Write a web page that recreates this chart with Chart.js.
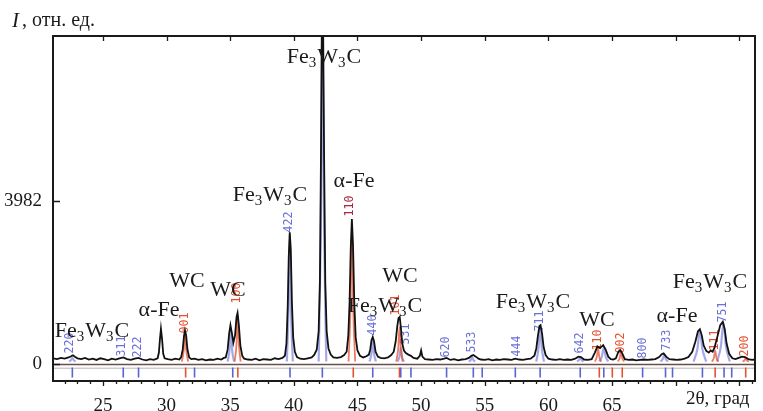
<!DOCTYPE html>
<html><head><meta charset="utf-8">
<script src="https://cdn.jsdelivr.net/npm/chart.js@4.4.1/dist/chart.umd.min.js"></script>
<style>html,body{margin:0;padding:0;background:#fff;}#wrap{width:763px;height:411px;position:relative;}</style>
</head><body><div id="wrap"><canvas id="c" width="763" height="411"></canvas></div>
<script>
// ---- observed pattern (2θ, intensity) ----
const twoTheta = [21.1,21.4,21.7,22.0,22.3,22.5,22.65,22.8,23.0,23.3,23.6,23.9,24.2,24.5,24.8,25.1,25.4,25.7,26.0,26.3,26.6,26.9,27.2,27.5,27.8,28.1,28.4,28.7,29.0,
29.3,29.4,29.48,29.56,29.65,29.74,29.85,30.1,30.4,30.7,31.0,
31.15,31.27,31.37,31.45,31.54,31.64,31.78,31.95,32.2,32.5,32.8,33.1,33.4,33.7,34.0,34.3,
34.5,34.65,34.8,34.92,35.02,35.12,35.25,35.38,35.5,35.58,35.68,35.8,35.95,36.1,
36.4,36.7,37.0,37.3,37.6,37.9,38.2,38.5,38.8,39.1,
39.3,39.42,39.52,39.6,39.68,39.76,39.85,39.95,40.08,40.25,40.5,40.8,41.1,41.4,41.6,
41.8,41.95,42.05,42.13,42.2,42.3,42.38,42.47,42.58,42.72,42.9,43.1,43.4,43.7,43.95,
44.15,44.28,44.38,44.47,44.56,44.65,44.75,44.86,45.0,45.2,45.45,45.7,
45.9,46.0,46.1,46.2,46.3,46.42,46.6,46.8,47.1,47.4,47.65,
47.85,48.0,48.12,48.22,48.32,48.42,48.52,48.65,48.8,49.0,49.2,49.4,
49.7,49.9,50.0,50.1,50.3,50.6,50.9,51.2,51.5,51.8,52.0,52.3,52.6,52.9,53.2,53.5,53.75,53.95,54.1,54.3,54.5,54.7,55.0,55.3,55.6,55.9,56.2,56.5,56.8,57.1,57.4,57.7,58.0,58.3,58.6,
58.9,59.05,59.18,59.3,59.38,59.5,59.62,59.78,60.0,
60.3,60.6,60.9,61.2,61.5,61.8,62.1,62.35,62.55,62.8,63.1,63.4,63.65,63.85,64.05,64.3,64.5,64.7,64.9,65.1,65.3,65.5,65.65,65.8,66.0,
66.3,66.6,66.9,67.2,67.5,67.8,68.1,68.4,68.7,68.9,69.05,69.25,69.5,69.8,70.1,70.4,70.7,71.0,71.3,71.55,71.75,71.9,72.05,72.2,72.4,72.6,72.75,72.9,73.05,73.3,73.5,73.7,73.85,74.0,74.2,74.45,74.7,74.95,75.2,75.45,75.7,76.0,76.2];
const intensity = [140,120,150,130,160,190,215,180,140,120,150,110,130,100,140,120,90,130,110,140,160,120,100,130,150,110,90,120,100,
140,280,600,860,600,250,140,120,100,130,110,
170,350,680,820,700,360,160,120,130,100,120,90,110,100,130,110,
150,160,350,750,950,780,520,700,1150,1250,950,450,200,130,
110,100,130,90,120,110,100,140,120,150,
200,500,1400,2600,3220,2800,1500,650,300,170,130,120,140,160,220,
350,800,2000,5000,8300,8300,5000,2000,800,380,230,160,150,170,220,
300,700,1500,2800,3540,2900,1500,650,330,200,160,190,
230,350,580,660,560,300,180,150,140,160,220,
300,550,900,1120,1150,850,500,330,270,230,200,150,
130,200,330,180,120,110,100,120,110,130,150,100,120,90,110,120,150,200,220,180,130,110,100,120,90,110,100,120,110,100,130,110,100,120,130,
200,380,700,930,950,750,420,220,130,
110,100,120,100,110,100,130,180,170,110,100,120,280,430,390,460,350,180,120,110,140,300,340,260,120,
100,110,90,100,110,100,110,120,170,240,260,180,120,110,100,110,130,170,300,550,800,850,700,450,320,280,330,300,400,700,950,1030,850,500,250,140,120,150,180,170,120,100,110];

// ---- calculated profiles (null = no contribution drawn) ----
const calcFeAngle = [22.35,22.5,22.6,22.7,22.85,null,34.8,34.95,35.05,35.15,35.3,null,39.45,39.58,39.68,39.78,39.92,null,41.95,42.12,42.25,42.38,42.55,null,45.95,46.1,46.2,46.3,46.45,null,48.15,48.3,48.4,48.5,48.65,null,53.75,53.9,54.0,54.1,54.25,null,59.05,59.22,59.35,59.48,59.65,null,62.25,62.4,62.5,62.6,62.75,null,64.0,64.2,64.35,64.5,64.7,null,68.8,68.98,69.1,69.22,69.4,null,71.4,71.7,71.9,72.1,72.4,null,73.25,73.55,73.75,73.95,74.25];
const calcFeInt   = [60,100,150,100,60,null,60,350,880,350,60,null,60,1300,3150,1300,60,null,60,3200,8300,3200,60,null,60,260,620,260,60,null,60,180,400,180,60,null,60,100,180,100,60,null,60,380,900,380,60,null,60,100,160,100,60,null,60,180,400,180,60,null,60,120,230,120,60,null,60,360,820,360,60,null,60,430,1000,430,60];
const calcWcAngle = [31.2,31.35,31.45,31.55,31.7,null,35.35,35.5,35.58,35.68,35.82,null,44.3,44.46,44.56,44.66,44.82,null,48.05,48.2,48.3,48.4,48.55,null,63.65,63.8,63.9,64.0,64.15,null,65.45,65.6,65.7,65.8,65.95,null,72.85,73.0,73.1,73.2,73.35,null,75.25,75.4,75.5,75.6,75.75];
const calcWcInt   = [60,330,780,330,60,null,60,500,1200,500,60,null,60,1450,3400,1450,60,null,60,380,900,380,60,null,60,170,380,170,60,null,60,140,310,140,60,null,60,150,330,150,60,null,60,90,150,90,60];

// ---- reflection positions (tick strip) ----
const marksFe3W3C = [22.6,26.6,27.8,32.2,35.2,39.7,42.24,46.2,48.4,49.2,52.0,54.1,54.8,57.4,59.35,62.5,64.35,67.4,69.2,69.75,72.1,73.8,74.4];
const marksWcFe   = [31.5,35.6,44.67,48.3,64.0,65.02,65.8,73.1,75.5];

// ---- axis ticks ----
const xTickLabels = [25,30,35,40,45,50,55,60,65];
const yTickLabels = [0,3982];

// ---- hkl labels ----
const hklText  = ['220','311','222','001','100','422','110','440','531','101','620','533','444','711','642','110','002','800','733','111','751','200'];
const hklAngle = [22.42,26.50,27.76,31.45,35.54,39.62,44.41,46.22,48.81,48.03,51.95,53.99,57.53,59.34,62.48,63.89,65.70,67.43,69.32,73.09,73.71,75.44];
const hklLevel = [513,440,415,1002,1735,3469,3860,953,733,1441,415,537,440,1050,513,586,513,391,586,586,1270,440];
const hklPhase = ['F','F','F','W','W','F','A','F','F','W','F','F','F','F','F','W','W','F','F','W','F','W'];

// ---- phase labels ----
const phaseText  = ['Fe3W3C','α-Fe','Fe3W3C','WC','WC','α-Fe','Fe3W3C','WC','Fe3W3C','Fe3W3C','WC','α-Fe','Fe3W3C'];
const phaseAngle = [42.37,44.73,38.13,31.61,34.83,29.41,24.15,48.34,47.16,58.79,63.82,70.10,72.69];
const phaseLevel = [7500,4471,4129,2028,1808,1319,806,2150,1417,1515,1075,1173,2003];

const MARK_LEVEL = -208;
const X_MIN = 21.08, X_MAX = 76.23, Y_MIN = -415, Y_MAX = 8013;

const SERIF = '"Liberation Serif", "DejaVu Serif", serif';
const BLUE = '#5b63cf', RED = '#e5502f', DRED = '#a8283e';

const pts = (xs, ys) => xs.map((x, i) => (x === null ? {x: NaN, y: null} : {x, y: ys[i]}));

function drawFormula(ctx, text, cx, cy) {
  const big = '22px ' + SERIF, small = '15px ' + SERIF;
  const parts = [];
  for (const ch of text) parts.push({ch, sub: /[0-9]/.test(ch)});
  let w = 0;
  for (const p of parts) { ctx.font = p.sub ? small : big; w += ctx.measureText(p.ch).width + (p.sub ? 1 : 0); }
  let x = cx - w / 2;
  ctx.textBaseline = 'middle'; ctx.textAlign = 'left'; ctx.fillStyle = '#1a1a1a';
  for (const p of parts) {
    ctx.font = p.sub ? small : big;
    ctx.fillText(p.ch, x, p.sub ? cy + 6 : cy);
    x += ctx.measureText(p.ch).width + (p.sub ? 1 : 0);
  }
}

const decor = {
  id: 'decor',
  beforeDatasetsDraw(chart) {
    const {ctx, chartArea: a, scales: {x, y}} = chart;
    ctx.save();
    const y0 = y.getPixelForValue(0);
    ctx.strokeStyle = '#6a4e4a'; ctx.lineWidth = 1.4;
    ctx.beginPath(); ctx.moveTo(a.left, y0 + 0.5); ctx.lineTo(a.right, y0 + 0.5); ctx.stroke();
    ctx.strokeStyle = '#b4b4b4'; ctx.lineWidth = 1;
    const y1 = y.getPixelForValue(-90);
    ctx.beginPath(); ctx.moveTo(a.left, y1 + 0.5); ctx.lineTo(a.right, y1 + 0.5); ctx.stroke();
    // hkl labels
    ctx.font = '11.5px "DejaVu Sans Mono", monospace';
    ctx.textAlign = 'center'; ctx.textBaseline = 'middle';
    hklText.forEach((t, i) => {
      const px = x.getPixelForValue(hklAngle[i]), py = y.getPixelForValue(hklLevel[i]);
      ctx.save(); ctx.translate(px, py); ctx.rotate(-Math.PI / 2);
      ctx.fillStyle = hklPhase[i] === 'F' ? '#6a70d6' : (hklPhase[i] === 'A' ? DRED : RED);
      ctx.fillText(t, 0, 0); ctx.restore();
    });
    ctx.restore();
  },
  afterDatasetsDraw(chart) {
    const {ctx, chartArea: a, scales: {x, y}} = chart;
    ctx.save();
    phaseText.forEach((t, i) => drawFormula(ctx, t, x.getPixelForValue(phaseAngle[i]), y.getPixelForValue(phaseLevel[i])));
    // frame
    ctx.strokeStyle = '#1a1a1a'; ctx.lineWidth = 2;
    ctx.strokeRect(a.left, a.top, a.right - a.left, a.bottom - a.top);
    ctx.lineWidth = 1.3;
    ctx.beginPath();
    for (let v = Math.ceil(X_MIN); v <= X_MAX; v++) {
      const px = Math.round(x.getPixelForValue(v)) + 0.5;
      const len = v % 5 === 0 ? 5 : 3;
      ctx.moveTo(px, a.bottom); ctx.lineTo(px, a.bottom + len);
      if (v % 5 === 0) { ctx.moveTo(px, a.top); ctx.lineTo(px, a.top + 5); }
    }
    yTickLabels.forEach(v => {
      const py = Math.round(y.getPixelForValue(v)) + 0.5;
      ctx.moveTo(a.left, py); ctx.lineTo(a.left + 7, py);
    });
    ctx.stroke();
    // axis titles
    ctx.fillStyle = '#1a1a1a'; ctx.textBaseline = 'middle'; ctx.textAlign = 'left';
    ctx.font = 'italic 21px ' + SERIF;
    ctx.fillText('I', 12, 21);
    const wI = ctx.measureText('I').width;
    ctx.font = '20px ' + SERIF;
    ctx.fillText(', отн. ед.', 12 + wI + 3, 21);
    ctx.font = '19px ' + SERIF;
    ctx.fillText('2θ, град', 686, 399);
    ctx.restore();
  }
};

new Chart(document.getElementById('c'), {
  type: 'scatter',
  data: {
    datasets: [
      {label: 'obs', data: pts(twoTheta, intensity), showLine: true, borderColor: '#111', borderWidth: 1.8, pointRadius: 0, tension: 0},
      {label: 'marksF', data: marksFe3W3C.map(v => ({x: v, y: MARK_LEVEL})), pointStyle: 'line', rotation: 90, pointRadius: 5, borderColor: BLUE, backgroundColor: BLUE, pointBorderWidth: 1.6},
      {label: 'marksW', data: marksWcFe.map(v => ({x: v, y: MARK_LEVEL})), pointStyle: 'line', rotation: 90, pointRadius: 5, borderColor: RED, backgroundColor: RED, pointBorderWidth: 1.6},
      {label: 'calcW', data: pts(calcWcAngle, calcWcInt), showLine: true, spanGaps: false, borderColor: 'rgba(229,80,47,0.75)', borderWidth: 1.8, pointRadius: 0, cubicInterpolationMode: 'monotone'},
      {label: 'calcF', data: pts(calcFeAngle, calcFeInt), showLine: true, spanGaps: false, borderColor: 'rgba(91,99,207,0.55)', borderWidth: 2.2, pointRadius: 0, cubicInterpolationMode: 'monotone'}
    ]
  },
  options: {
    responsive: false, animation: false, devicePixelRatio: 1,
    layout: {padding: {top: 36, right: 8, left: 0, bottom: 0}},
    plugins: {legend: {display: false}, tooltip: {enabled: false}},
    scales: {
      x: {
        type: 'linear', min: X_MIN, max: X_MAX,
        grid: {display: false}, border: {display: false},
        afterBuildTicks: s => { s.ticks = xTickLabels.map(v => ({value: v})); },
        afterFit: s => { s.height = 30; },
        ticks: {font: {family: SERIF, size: 19}, color: '#1a1a1a', padding: 6, maxRotation: 0, autoSkip: false, callback: v => String(v)}
      },
      y: {
        type: 'linear', min: Y_MIN, max: Y_MAX,
        grid: {display: false}, border: {display: false},
        afterBuildTicks: s => { s.ticks = yTickLabels.map(v => ({value: v})); },
        afterFit: s => { s.width = 53; },
        ticks: {font: {family: SERIF, size: 19}, color: '#1a1a1a', padding: 3, callback: v => String(v)}
      }
    }
  },
  plugins: [decor]
});
</script></body></html>
